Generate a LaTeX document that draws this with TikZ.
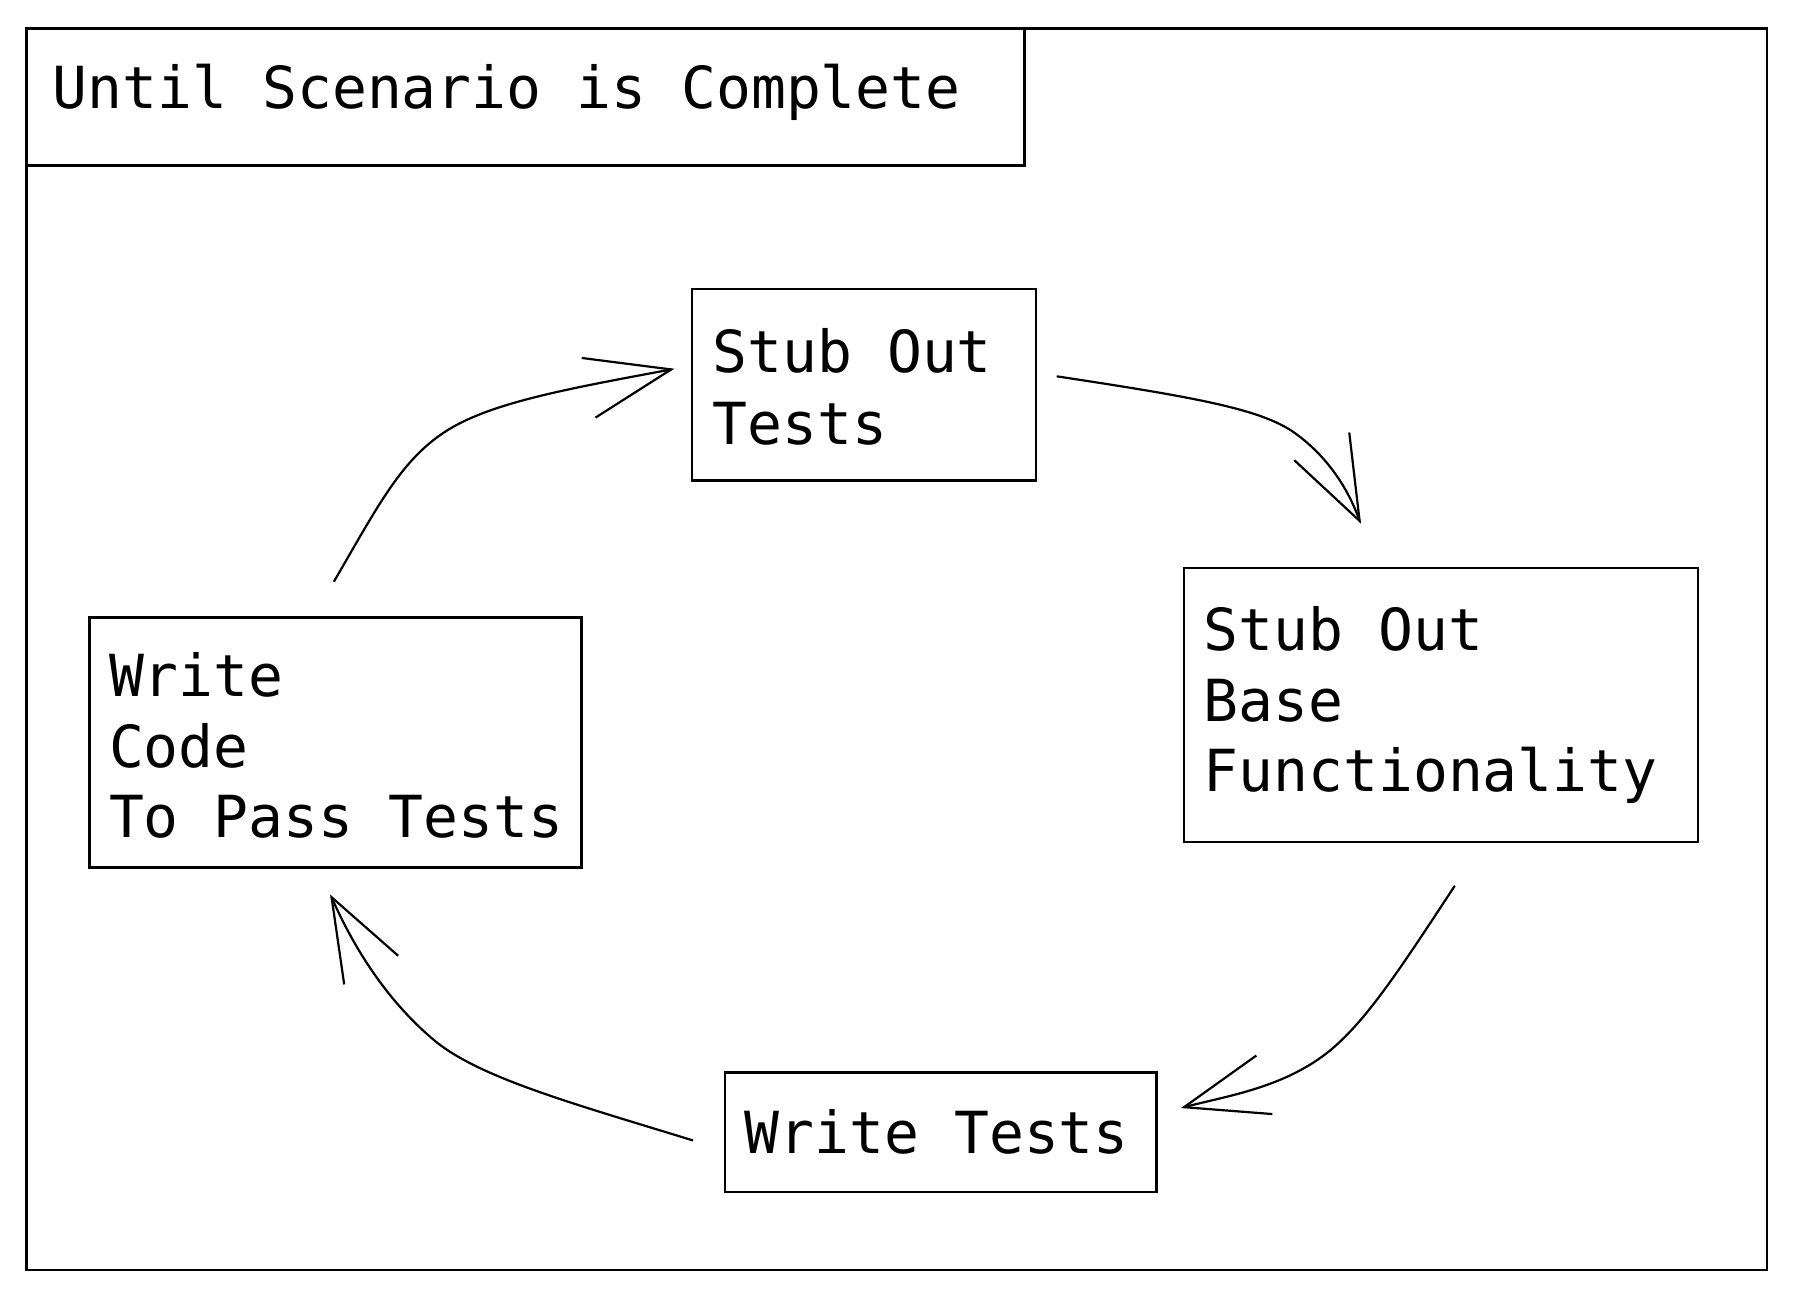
\documentclass[tikz,border=0pt]{standalone}
\usepackage{fontspec}
\setmonofont{DejaVu Sans Mono}
\begin{document}
\begin{tikzpicture}[x=0.57367pt,y=-0.57367pt,
  line width=1.2pt,
  txt/.style={font=\ttfamily\fontsize{29}{35.6}\selectfont, inner sep=0pt, anchor=base west},
  frame/.style={draw, line width=1.3pt},
  conn/.style={line width=1.1pt}]
\useasboundingbox (0,0) rectangle (1568,1135);
% outer frame and title
\draw[frame] (23,25) rectangle (1540,1107);
\draw[frame] (23,25) rectangle (893,144);
\node[txt] (title) at (45,95) {Until Scenario is Complete};
% boxes
\node[frame, inner sep=0pt, minimum width=300*0.57367pt, minimum height=167*0.57367pt] (stub) at (753,335.5) {};
\node[txt] (stubA) at (620,325) {Stub Out};
\node[txt] (stubB) at (620,387) {Tests};
\node[frame, inner sep=0pt, minimum width=448*0.57367pt, minimum height=239*0.57367pt] (base) at (1256,614.5) {};
\node[txt] (baseA) at (1048,567) {Stub Out};
\node[txt] (baseB) at (1048,629) {Base};
\node[txt] (baseC) at (1048,690) {Functionality};
\node[frame, inner sep=0pt, minimum width=376*0.57367pt, minimum height=104*0.57367pt] (wt) at (820,987) {};
\node[txt] (wtA) at (648,1005) {Write Tests};
\node[frame, inner sep=0pt, minimum width=429*0.57367pt, minimum height=218*0.57367pt] (wc) at (292.5,647) {};
\node[txt] (wcA) at (94,607) {Write};
\node[txt] (wcB) at (94,669) {Code};
\node[txt] (wcC) at (94,730) {To Pass Tests};
% connector end points
\coordinate (a1s) at (291,507);
\coordinate (a1t) at (585,322);
\coordinate (a1h1) at (507,312);
\coordinate (a1h2) at (519,364);
\coordinate (a2s) at (921,328);
\coordinate (a2t) at (1185,454);
\coordinate (a2h1) at (1176,377);
\coordinate (a2h2) at (1128,401);
\coordinate (a3s) at (1268,772);
\coordinate (a3t) at (1032,965);
\coordinate (a3h1) at (1095,920);
\coordinate (a3h2) at (1109,971);
\coordinate (a4s) at (604,994);
\coordinate (a4t) at (289,782);
\coordinate (a4h1) at (347,833);
\coordinate (a4h2) at (300,858);
% connectors
\draw[conn] (a1s) .. controls (330,440) and (350,400) .. (390,375) .. controls (430,350) and (500,338) .. (a1t);
\draw[conn] (a1h1) -- (a1t) -- (a1h2);
\draw[conn] (a2s) .. controls (1040,346) and (1095,356) .. (1125,375) .. controls (1155,395) and (1175,425) .. (a2t);
\draw[conn] (a2h1) -- (a2t) -- (a2h2);
\draw[conn] (a3s) .. controls (1220,845) and (1192,888) .. (1160,915) .. controls (1120,948) and (1070,955) .. (a3t);
\draw[conn] (a3h1) -- (a3t) -- (a3h2);
\draw[conn] (a4s) .. controls (500,962) and (420,940) .. (380,908) .. controls (340,875) and (310,830) .. (a4t);
\draw[conn] (a4h1) -- (a4t) -- (a4h2);
\end{tikzpicture}
\end{document}
